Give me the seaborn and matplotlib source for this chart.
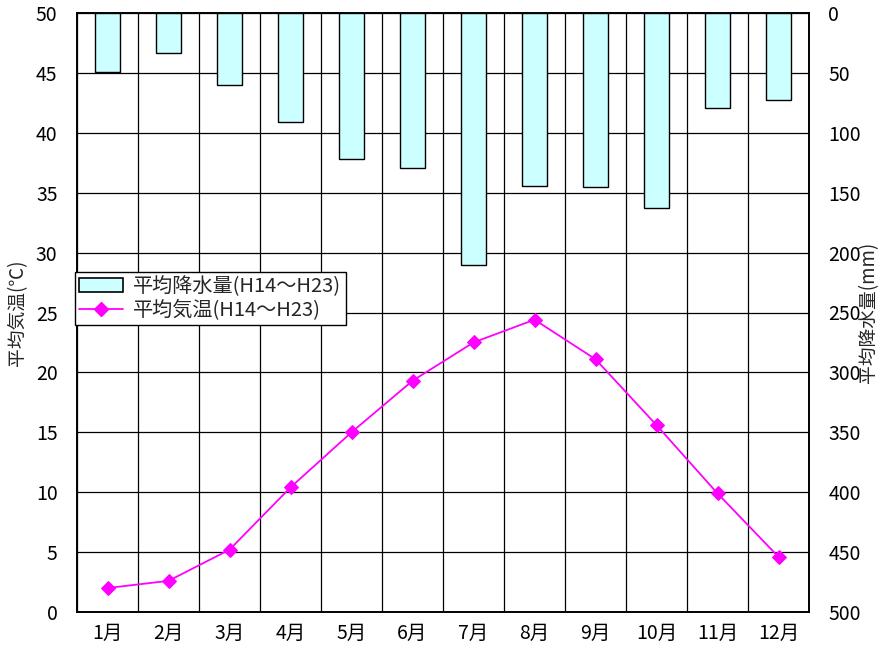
import numpy as np
import pandas as pd
import matplotlib
matplotlib.use('Agg')
import matplotlib.pyplot as plt
from matplotlib.patches import Patch
from matplotlib.lines import Line2D
import seaborn as sns

# monthly averages (H14-H23)
months = ['1月', '2月', '3月', '4月', '5月', '6月', '7月', '8月', '9月', '10月', '11月', '12月']
precip_mm = [49, 33, 60, 91, 122, 129, 210, 144, 145, 163, 79, 73]
temp_c = [2.0, 2.6, 5.2, 10.4, 15.0, 19.3, 22.5, 24.4, 21.1, 15.6, 9.9, 4.6]

temp_ticks = list(range(0, 51, 5))
precip_ticks = list(range(0, 501, 50))

df = pd.DataFrame({'month': months, 'precip': precip_mm, 'temp': temp_c})

sns.set_theme(style='white')
plt.rcParams['font.family'] = ['Noto Sans CJK JP', 'DejaVu Sans']

fig = plt.figure(figsize=(8.8, 6.54), dpi=100)
ax = fig.add_subplot(111)
fig.subplots_adjust(left=77/880, right=809/880, top=1 - 13/654, bottom=1 - 612/654)

# precipitation bars hang from the top (inverted right axis)
sns.barplot(data=df, x='month', y='precip', ax=ax, color='#CCFFFF',
            edgecolor='black', linewidth=1, width=0.4, saturation=1, zorder=3)
ax.set_ylim(500, 0)
ax.set_xlim(-0.5, len(months) - 0.5)
ax.set_yticks(precip_ticks)
ax.set_xlabel('')
ax.set_xticks(np.arange(-0.5, len(months), 1.0), minor=True)
ax.grid(True, which='major', axis='y', color='black', linewidth=0.9)
ax.grid(True, which='minor', axis='x', color='black', linewidth=0.9)
ax.grid(False, which='major', axis='x')
ax.set_axisbelow(True)

# temperature line on the left axis
ax2 = ax.twinx()
sns.lineplot(data=df, x='month', y='temp', ax=ax2, color='#FF00FF', linewidth=1.3,
             marker='D', markersize=7, markeredgecolor='#FF00FF', sort=False)
ax2.set_ylim(0, 50)
ax2.set_yticks(temp_ticks)
ax2.set_xlim(-0.5, len(months) - 0.5)

# twinx moves ticks around, so fix sides afterwards
ax.yaxis.tick_right()
ax.set_ylabel('平均降水量(mm)', fontsize=13.5, rotation=90, va='center', ha='center')
ax.yaxis.set_label_coords(1.082, 0.5)
ax2.yaxis.tick_left()
ax2.set_ylabel('平均気温(℃)', fontsize=13.5, rotation=90, va='center', ha='center')
ax2.yaxis.set_label_coords(-0.081, 0.5)

ax.tick_params(axis='both', which='both', length=0, labelsize=14, colors='black')
ax.tick_params(axis='y', pad=14)
ax.tick_params(axis='x', pad=8)
ax2.tick_params(axis='y', length=0, labelsize=14, pad=14, colors='black')

for a in (ax, ax2):
    for s in a.spines.values():
        s.set_color('black')
        s.set_linewidth(1.2)

handles = [
    Patch(facecolor='#CCFFFF', edgecolor='black', linewidth=1.2, label='平均降水量(H14～H23)'),
    Line2D([0], [0], color='#FF00FF', marker='D', markersize=7, linewidth=1.3,
           label='平均気温(H14～H23)'),
]
leg = ax2.legend(handles=handles, loc='upper left', bbox_to_anchor=(75/880, 1 - 272/654),
                 bbox_transform=fig.transFigure, fontsize=14.5, frameon=True, fancybox=False,
                 borderpad=0.2, handlelength=2.2, handletextpad=0.5, labelspacing=0.15,
                 borderaxespad=0)
leg.get_frame().set_edgecolor('black')
leg.get_frame().set_linewidth(1.0)
leg.get_frame().set_alpha(1)

fig.savefig('out.png', dpi=100)
